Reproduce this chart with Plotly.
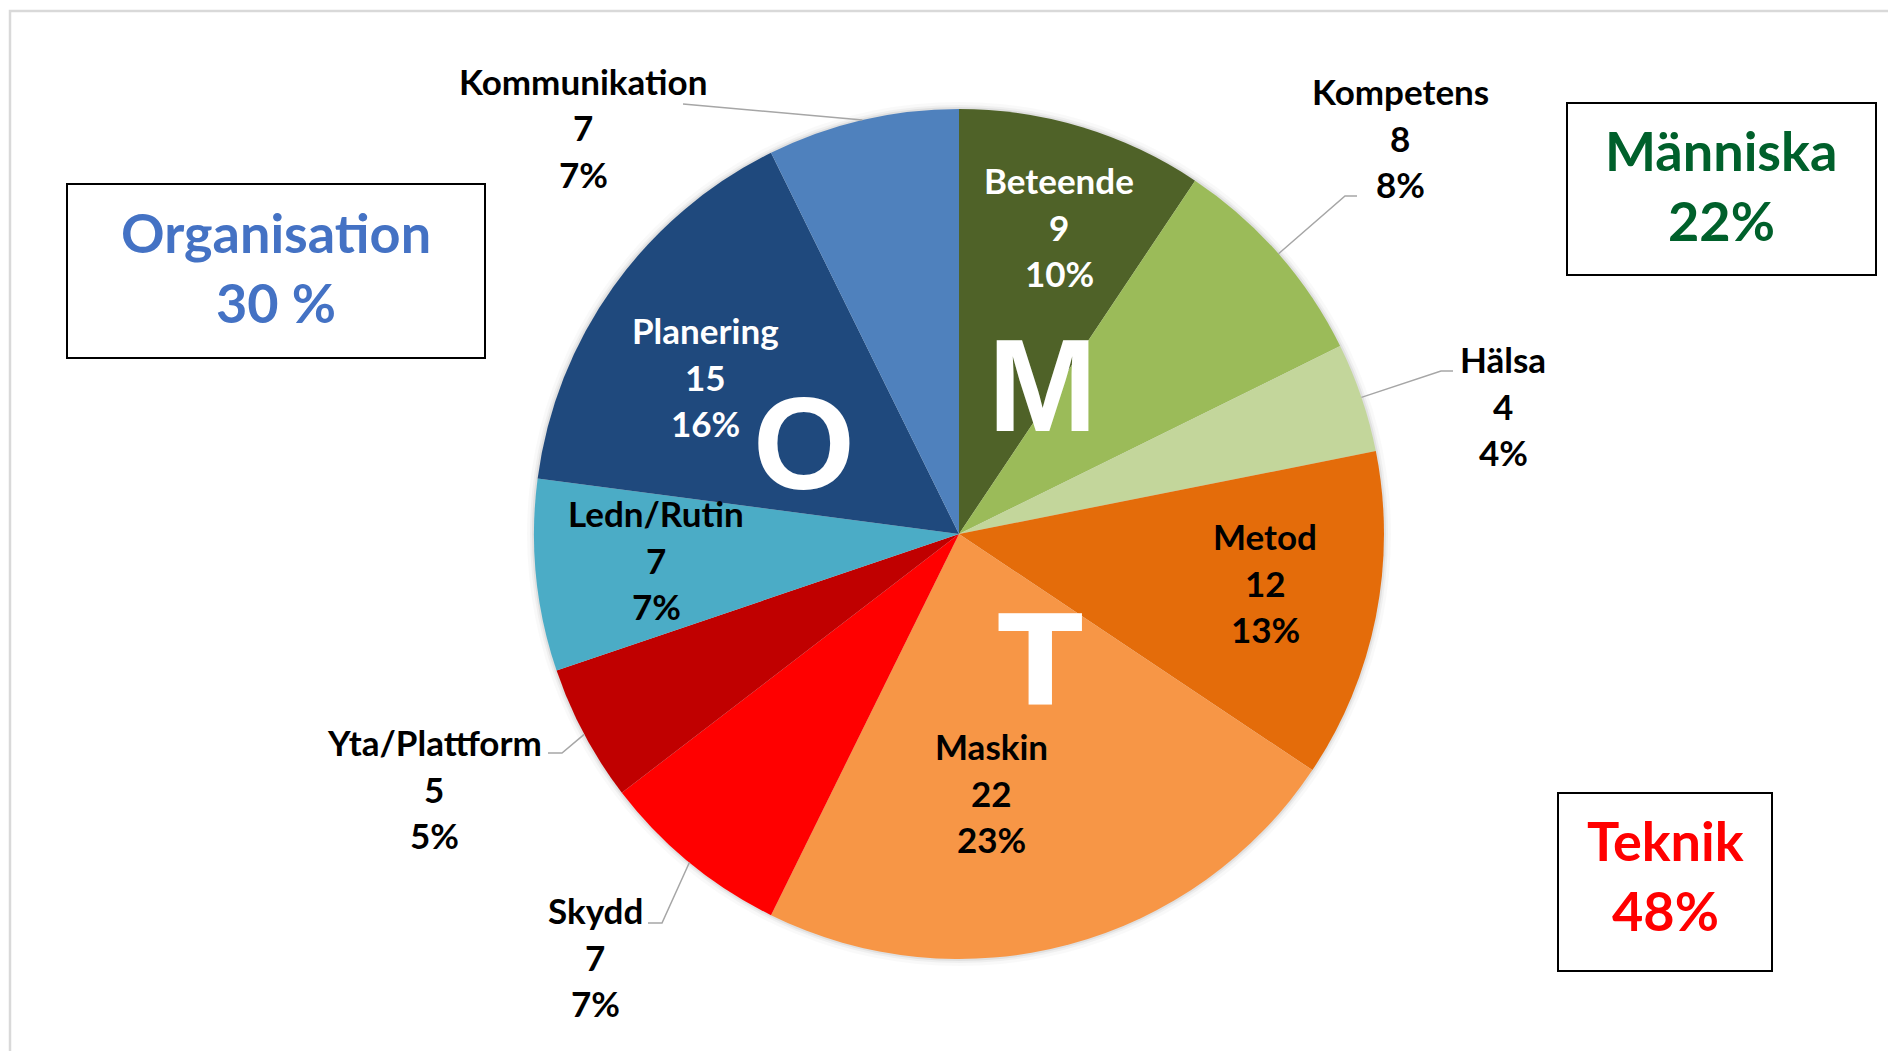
import math
import plotly.graph_objects as go

# ---------------- data ----------------
categories = ["Beteende", "Kompetens", "Hälsa", "Metod", "Maskin",
              "Skydd", "Yta/Plattform", "Ledn/Rutin", "Planering", "Kommunikation"]
values = [9, 8, 4, 12, 22, 7, 5, 7, 15, 7]
pct_labels = ["10%", "8%", "4%", "13%", "23%", "7%", "5%", "7%", "16%", "7%"]

group_names = ["Organisation", "Människa", "Teknik"]
group_pcts = ["30 %", "22%", "48%"]
group_letters = ["O", "M", "T"]

# ---------------- styles / layout ----------------
OFF = 8                      # page body margin
W, H = 1896 - OFF, 1051 - OFF
CX, CY, R = 959, 534, 425     # target window pixels

slice_colors = ["#4F6228", "#9BBB59", "#C3D69B", "#E46C0A", "#F79646",
                "#FF0000", "#C00000", "#4BACC6", "#1F497D", "#4F81BD"]
label_colors = ["white", "black", "black", "black", "black",
                "black", "black", "black", "white", "black"]
# centre of first label line (window px)
label_pos = [(1059, 180), (1400, 91), (1503, 359), (1265, 536), (991, 746),
             (595, 910), (434, 742), (656, 513), (705, 330), (583, 81)]
LINE_GAP = 46.5
# leader line points from label side (px); final point is the slice edge midpoint
leader_pts = {1: [(1357, 196), (1345, 196)],
              2: [(1453, 371), (1441, 371)],
              5: [(648, 923), (662, 923)],
              6: [(548, 753), (562, 753)],
              9: [(683, 104)]}

group_colors = ["#4472C4", "#00602B", "#FF0000"]
group_boxes = [(67, 184, 485, 358), (1567, 103, 1876, 275), (1558, 793, 1772, 971)]
group_text = [(276, 232), (1721, 151), (1665, 840)]
GROUP_GAP = 70
letter_pos = [(804, 443), (1042, 385), (1040, 661)]
letter_fonts = ["Liberation Sans", "Liberation Sans", "DejaVu Sans"]
letter_sizes = [131, 131, 124]

LBL_FONT = "Lato"


def px(x):
    return (x - OFF) / W


def py(y):
    return 1 - (y - OFF) / H


fig = go.Figure()
fig.add_trace(go.Pie(
    labels=categories, values=values, sort=False, direction="clockwise",
    rotation=0, marker=dict(colors=slice_colors, line=dict(width=0)),
    textinfo="none", hoverinfo="label+value", showlegend=False,
    domain=dict(x=[px(CX - R), px(CX + R)], y=[py(CY + R), py(CY - R)]),
))

shapes = []
# outer chart border
shapes.append(dict(type="rect", xref="paper", yref="paper",
                   x0=px(10), y0=py(H + 40), x1=px(W + 40), y1=py(11),
                   line=dict(color="#D9D9D9", width=2.5), layer="below"))
# soft shadow around pie
for d, a in [(7, 0.025), (4, 0.04), (2, 0.06)]:
    shapes.append(dict(type="circle", xref="paper", yref="paper",
                       x0=px(CX - R - d), x1=px(CX + R + d),
                       y0=py(CY + R + d), y1=py(CY - R - d),
                       fillcolor=f"rgba(0,0,0,{a})", line=dict(width=0), layer="below"))

# leader lines
total = sum(values)
cum = 0
mids = []
for v in values:
    mids.append((cum + v / 2) / total * 2 * math.pi)
    cum += v
for i, pts in leader_pts.items():
    ang = mids[i]
    ex = CX + R * math.sin(ang)
    ey = CY - R * math.cos(ang)
    allp = pts + [(ex, ey)]
    path = "M " + " L ".join(f"{px(x):.5f},{py(y):.5f}" for x, y in allp)
    shapes.append(dict(type="path", xref="paper", yref="paper", path=path,
                       line=dict(color="#A6A6A6", width=1.5)))

# group boxes
for (x0, y0, x1, y1) in group_boxes:
    shapes.append(dict(type="rect", xref="paper", yref="paper",
                       x0=px(x0), y0=py(y1), x1=px(x1), y1=py(y0),
                       line=dict(color="black", width=2), fillcolor="rgba(0,0,0,0)"))

annotations = []
# slice labels
for i, cat in enumerate(categories):
    lx, ly = label_pos[i]
    for k, txt in enumerate([cat, str(values[i]), pct_labels[i]]):
        annotations.append(dict(
            x=px(lx), y=py(ly + k * LINE_GAP), xref="paper", yref="paper",
            text=txt, showarrow=False, xanchor="center", yanchor="middle",
            font=dict(family=LBL_FONT, size=35, color=label_colors[i], weight=700)))

# group text
for g in range(3):
    gx, gy = group_text[g]
    for k, txt in enumerate([group_names[g], group_pcts[g]]):
        annotations.append(dict(
            x=px(gx), y=py(gy + k * GROUP_GAP), xref="paper", yref="paper",
            text=txt, showarrow=False, xanchor="center", yanchor="middle",
            font=dict(family=LBL_FONT, size=54, color=group_colors[g], weight=700)))

# big letters
for g in range(3):
    lx, ly = letter_pos[g]
    annotations.append(dict(
        x=px(lx), y=py(ly), xref="paper", yref="paper",
        text=group_letters[g], showarrow=False, xanchor="center", yanchor="middle",
        font=dict(family=letter_fonts[g], size=letter_sizes[g], color="white", weight=700)))

fig.update_layout(
    width=W, height=H, margin=dict(l=0, r=0, t=0, b=0),
    paper_bgcolor="white", plot_bgcolor="white",
    shapes=shapes, annotations=annotations,
)

fig.write_html("out.html")
